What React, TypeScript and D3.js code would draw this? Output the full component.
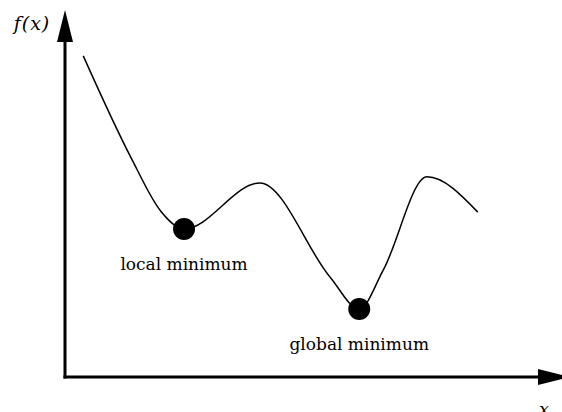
import * as d3 from "d3";

const width = 562;
const height = 412;

// curve samples (x, f(x))
const xs = [0.38, 1.38, 2.0, 2.48, 4.06, 5.52, 6.13, 6.63, 7.54, 8.6];
const ys = [8.92, 6.08, 4.6, 4.11, 5.39, 2.78, 1.89, 2.97, 5.56, 4.58];

const minima = ["local minimum", "global minimum"];
const minX = [2.48, 6.13];
const minY = [4.11, 1.89];

const x = d3.scaleLinear().domain([0, 10]).range([65, 545]);
const y = d3.scaleLinear().domain([0, 10]).range([377, 17]);

const serif = "'DejaVu Serif', 'Liberation Serif', serif";

export default function App() {
  const pts = xs.map((v, i) => [v, ys[i]] as [number, number]);
  const line = d3
    .line<[number, number]>()
    .x((d) => x(d[0]))
    .y((d) => y(d[1]))
    .curve(d3.curveMonotoneX);

  const ax0 = x(0);
  const ay0 = y(0);

  return (
    <svg
      width={width}
      height={height}
      style={{ position: "absolute", left: 0, top: 0, background: "#fff" }}
    >
      {/* axes */}
      <line x1={ax0} y1={ay0 + 1.5} x2={ax0} y2={40} stroke="#000" strokeWidth={3} />
      <path d={`M${ax0 - 8},42 L${ax0},10 L${ax0 + 8},42 Z`} fill="#000" />
      <line x1={ax0 - 1.5} y1={ay0} x2={540} y2={ay0} stroke="#000" strokeWidth={3} />
      <path d={`M538,${ay0 - 8} L570,${ay0} L538,${ay0 + 8} Z`} fill="#000" />

      <text x={32} y={30} textAnchor="middle" fontFamily={serif} fontStyle="italic" fontSize={19} letterSpacing={1}>
        f(x)
      </text>
      <text x={544} y={415} textAnchor="middle" fontFamily={serif} fontStyle="italic" fontSize={17}>
        x
      </text>

      <path d={line(pts) ?? ""} fill="none" stroke="#000" strokeWidth={1.5} />

      {minima.map((name, i) => (
        <g key={name}>
          <circle cx={x(minX[i])} cy={y(minY[i])} r={11} fill="#000" />
          <text
            x={x(minX[i])}
            y={y(minY[i]) + 41}
            textAnchor="middle"
            fontFamily={serif}
            fontSize={17}
          >
            {name}
          </text>
        </g>
      ))}
    </svg>
  );
}
